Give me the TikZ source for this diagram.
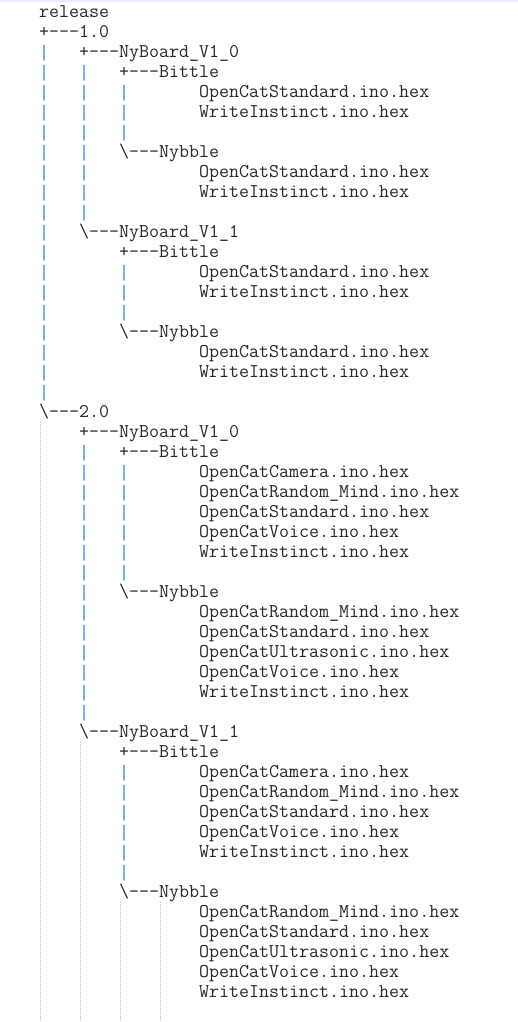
\documentclass[tikz,border=0pt]{standalone}
\usepackage{fontspec}
\newfontfamily\barfont{Liberation Mono}
\usetikzlibrary{calc}
\definecolor{barblue}{RGB}{58,142,222}
\definecolor{guidegray}{RGB}{190,190,190}
\definecolor{topband}{RGB}{234,234,248}
\definecolor{treetext}{RGB}{40,40,40}
\tikzset{zline/.style={
  anchor=base west,
  inner sep=0pt,
  outer sep=0pt,
  text=treetext,
  font=\ttfamily\fontsize{14.58}{17}\selectfont}}
\tikzset{zbarnode/.style={
  zline,
  text=barblue,
  font=\barfont\fontsize{12.5}{15}\selectfont}}
\tikzset{zguide/.style={
  guidegray,
  line width=.75pt,
  dash pattern=on .75pt off .75pt}}

\begin{document}
\begin{tikzpicture}[x=.75pt,y=-.75pt]

  %%%% Page and top band %%%%
  \fill[white] (0,0) rectangle (518,1022);
  \useasboundingbox (0,0) rectangle (518,1022);
  \fill[topband] (0,0) rectangle (518,2);

  %% Indent guides below the last branches
  \foreach \c/\top in {0/422,4/742,8/902,12/902}{
    \coordinate (guide\c-top) at (40+10*\c,\top);
    \coordinate (guide\c-bot) at (40+10*\c,1022);
    \draw[zguide] (guide\c-top) -- (guide\c-bot);
  }

  %% Vertical bars, one list of columns per row
  \foreach \r/\cols in {2/{0},3/{0,4},4/{0,4,8},5/{0,4,8},6/{0,4,8},
      7/{0,4},8/{0,4},9/{0,4},10/{0,4},11/{0},12/{0},13/{0,8},14/{0,8},
      15/{0,8},16/{0},17/{0},18/{0},19/{0},
      22/{4},23/{4,8},24/{4,8},25/{4,8},26/{4,8},27/{4,8},28/{4,8},
      29/{4},30/{4},31/{4},32/{4},33/{4},34/{4},35/{4},
      38/{8},39/{8},40/{8},41/{8},42/{8},43/{8}}{
    \foreach \c in \cols{
      \node[zbarnode] (bar-\r-\c) at (39+10*\c,17+20*\r) {|};
    }
  }

  %% Folder and file names
  \foreach \r/\c/\t in {
      0/0/release,
      1/0/+---1.0,
      2/4/+---NyBoard\_V1\_0,
      3/8/+---Bittle,
      4/16/OpenCatStandard.ino.hex,
      5/16/WriteInstinct.ino.hex,
      7/8/\textbackslash---Nybble,
      8/16/OpenCatStandard.ino.hex,
      9/16/WriteInstinct.ino.hex,
      11/4/\textbackslash---NyBoard\_V1\_1,
      12/8/+---Bittle,
      13/16/OpenCatStandard.ino.hex,
      14/16/WriteInstinct.ino.hex,
      16/8/\textbackslash---Nybble,
      17/16/OpenCatStandard.ino.hex,
      18/16/WriteInstinct.ino.hex,
      20/0/\textbackslash---2.0,
      21/4/+---NyBoard\_V1\_0,
      22/8/+---Bittle,
      23/16/OpenCatCamera.ino.hex,
      24/16/OpenCatRandom\_Mind.ino.hex,
      25/16/OpenCatStandard.ino.hex,
      26/16/OpenCatVoice.ino.hex,
      27/16/WriteInstinct.ino.hex,
      29/8/\textbackslash---Nybble,
      30/16/OpenCatRandom\_Mind.ino.hex,
      31/16/OpenCatStandard.ino.hex,
      32/16/OpenCatUltrasonic.ino.hex,
      33/16/OpenCatVoice.ino.hex,
      34/16/WriteInstinct.ino.hex,
      36/4/\textbackslash---NyBoard\_V1\_1,
      37/8/+---Bittle,
      38/16/OpenCatCamera.ino.hex,
      39/16/OpenCatRandom\_Mind.ino.hex,
      40/16/OpenCatStandard.ino.hex,
      41/16/OpenCatVoice.ino.hex,
      42/16/WriteInstinct.ino.hex,
      44/8/\textbackslash---Nybble,
      45/16/OpenCatRandom\_Mind.ino.hex,
      46/16/OpenCatStandard.ino.hex,
      47/16/OpenCatUltrasonic.ino.hex,
      48/16/OpenCatVoice.ino.hex,
      49/16/WriteInstinct.ino.hex}{
    \node[zline] (row-\r) at (39+10*\c,17+20*\r) {\t};
  }

\end{tikzpicture}
\end{document}
